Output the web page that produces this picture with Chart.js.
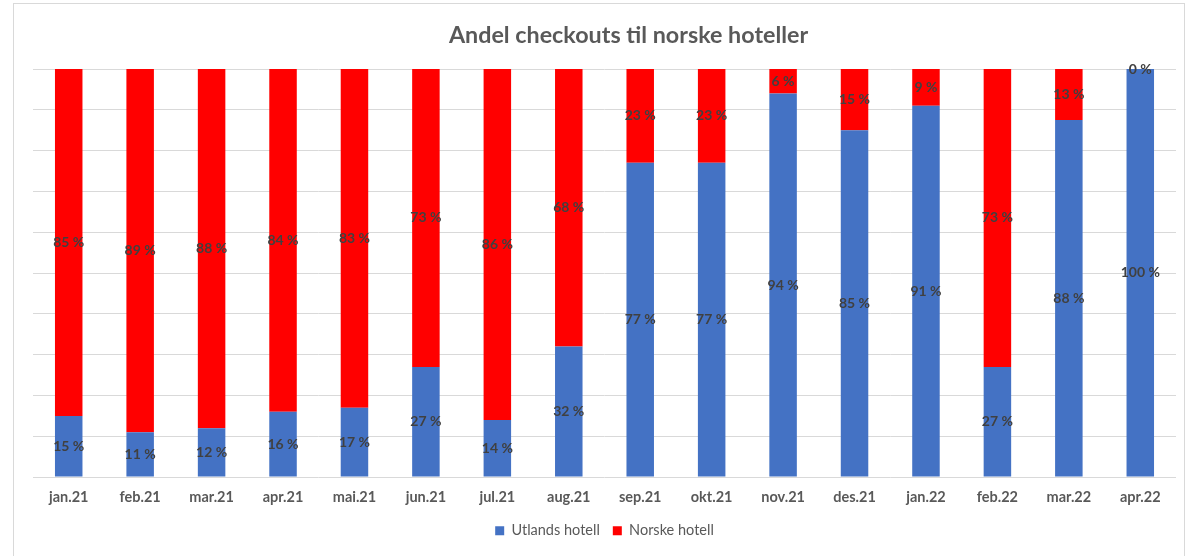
<!DOCTYPE html>
<html>
<head>
<meta charset="utf-8">
<script src="https://cdn.jsdelivr.net/npm/chart.js@4.4.1/dist/chart.umd.min.js"></script>
<style>
    body { margin: 0; background: #ffffff; }
    #wrap { position: relative; width: 1190px; height: 556px; overflow: hidden; }
    #frame { position: absolute; left: 13px; top: 3px; width: 1172px; height: 600px; border: 1px solid #d9d9d9; box-sizing: border-box; }
    #myChart { position: absolute; left: 0; top: 0; }
</style>
</head>
<body>
<div id="wrap">
    <div id="frame"></div>
    <canvas id="myChart" width="1190" height="556"></canvas>
</div>
<script>
// data
var months = ["jan.21", "feb.21", "mar.21", "apr.21", "mai.21", "jun.21", "jul.21", "aug.21",
    "sep.21", "okt.21", "nov.21", "des.21", "jan.22", "feb.22", "mar.22", "apr.22"];
var utlandsHotell = [15, 11, 12, 16, 17, 27, 14, 32, 77, 77, 94, 85, 91, 27, 87.5, 100];
var norskeHotell = [85, 89, 88, 84, 83, 73, 86, 68, 23, 23, 6, 15, 9, 73, 12.5, 0];
var yTicks = [0, 10, 20, 30, 40, 50, 60, 70, 80, 90, 100];
var chartTitle = "Andel checkouts til norske hoteller";

var fontName = "Lato, 'Open Sans', sans-serif";
var grey = "#595959";

//labels in the middle of every segment
var segmentLabels = {
    id: "segmentLabels",
    afterDatasetsDraw: function (chart) {
        var ctx = chart.ctx;
        ctx.save();
        ctx.font = "bold 14px " + fontName;
        ctx.fillStyle = "#404040";
        ctx.textAlign = "center";
        ctx.textBaseline = "middle";
        chart.data.datasets.forEach(function (ds, i) {
            var meta = chart.getDatasetMeta(i);
            meta.data.forEach(function (bar, j) {
                var mid = (bar.y + bar.base) / 2;
                ctx.fillText(Math.round(ds.data[j]) + " %", bar.x, mid);
            });
        });
        ctx.restore();
    }
};

//title is a bit right of centre in the original
var offsetTitle = {
    id: "offsetTitle",
    afterDraw: function (chart) {
        var ctx = chart.ctx;
        var area = chart.chartArea;
        ctx.save();
        ctx.font = "bold 23.3px " + fontName;
        ctx.fillStyle = grey;
        ctx.textAlign = "center";
        ctx.textBaseline = "middle";
        ctx.fillText(chartTitle, (area.left + area.right) / 2 + 24, area.top - 34);
        ctx.restore();
    }
};

var myChart = document.getElementById("myChart").getContext("2d");
var theChart = new Chart(myChart, {
    type: "bar",
    data: {
        labels: months,
        datasets: [{
            label: "Utlands hotell",
            data: utlandsHotell,
            backgroundColor: "#4472c4"
        }, {
            label: "Norske hotell",
            data: norskeHotell,
            backgroundColor: "#ff0000"
        }]
    },
    options: {
        responsive: false,
        animation: false,
        layout: { padding: { left: 33, right: 14, top: 69, bottom: 8 } },
        datasets: { bar: { categoryPercentage: 1, barPercentage: 0.385 } },
        scales: {
            x: {
                stacked: true,
                grid: { display: false },
                border: { display: false },
                ticks: { color: grey, font: { family: fontName, size: 14.5, weight: "bold" }, padding: 4 }
            },
            y: {
                stacked: true,
                min: 0,
                max: 100,
                afterBuildTicks: function (axis) {
                    axis.ticks = yTicks.map(function (v) { return { value: v }; });
                },
                grid: { color: "#d9d9d9", drawTicks: false },
                border: { display: false },
                ticks: { display: false }
            }
        },
        plugins: {
            title: { display: false },
            legend: {
                position: "bottom",
                labels: {
                    color: grey,
                    font: { family: fontName, size: 14.5 },
                    boxWidth: 9,
                    boxHeight: 9,
                    padding: 13
                }
            },
            tooltip: { enabled: false }
        }
    },
    plugins: [segmentLabels, offsetTitle]
});
</script>
</body>
</html>
